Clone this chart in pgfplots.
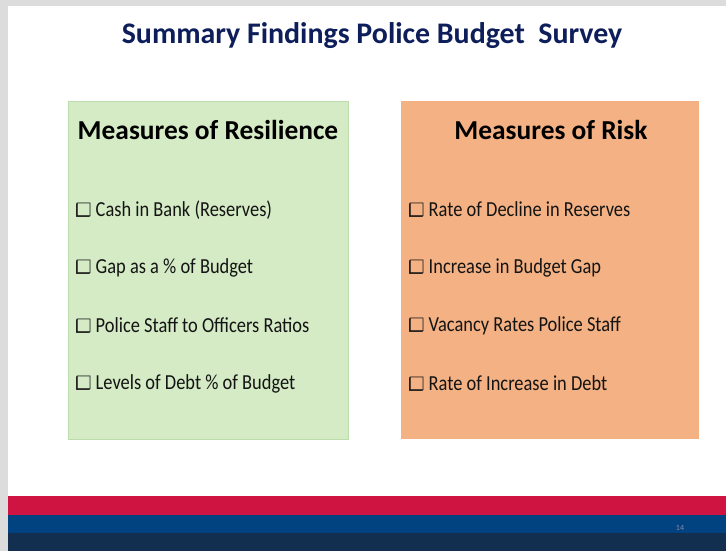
\documentclass[border=0pt]{standalone}
\usepackage{fontspec}
\usepackage{graphicx}
\setmainfont{Carlito}
\newfontfamily\itemfont[FakeStretch=0.86]{Carlito}
\newfontfamily\sym{DejaVu Sans}
\usepackage{pgfplots}
\pgfplotsset{compat=1.18}

\definecolor{titlenavy}{HTML}{0E1E5B}
\definecolor{resgreen}{HTML}{D4EBC5}
\definecolor{resedge}{HTML}{BCDCAB}
\definecolor{riskorange}{HTML}{F4B183}
\definecolor{bandred}{HTML}{CF1441}
\definecolor{bandblue}{HTML}{014280}
\definecolor{banddark}{HTML}{132F4F}
\definecolor{framegray}{HTML}{DCDCDC}
\definecolor{pagenum}{HTML}{7F8FA8}

% checkbox bullet, shadow on the lower left as in the slide
\newcommand{\bullitem}[1]{\reflectbox{\sym\fontsize{18.5}{18.5}\selectfont ❑}\hspace{4bp}#1}
\tikzset{item/.style={anchor=west, font=\itemfont\fontsize{21.5}{21.5}\selectfont, text=black!92, inner sep=0pt}}

\begin{document}
\begin{tikzpicture}
\begin{axis}[
    x=1bp, y=1bp,
    xmin=0, xmax=726, ymin=0, ymax=551,
    hide axis,
    clip=false,
]
    %% slide frame and background
    \addplot[fill=framegray, draw=none] coordinates {(0,0)(726,0)(726,551)(0,551)} -- cycle;
    \addplot[fill=white, draw=none] coordinates {(8,0)(726,0)(726,545)(8,545)} -- cycle;

    %% footer bands
    \addplot[fill=bandred, draw=none] coordinates {(8,36)(726,36)(726,55)(8,55)} -- cycle;
    \addplot[fill=bandblue, draw=none] coordinates {(8,18)(726,18)(726,36)(8,36)} -- cycle;
    \addplot[fill=banddark, draw=none] coordinates {(8,0)(726,0)(726,18)(8,18)} -- cycle;

    %% the two panels
    \addplot[fill=resgreen, draw=resedge, line width=0.8bp] coordinates {(68,112)(348,112)(348,450)(68,450)} -- cycle;
    \addplot[fill=riskorange, draw=none] coordinates {(401,112)(699,112)(699,450)(401,450)} -- cycle;

    %% title
    \node[font=\fontsize{30}{30}\selectfont\bfseries, text=titlenavy]
        at (axis cs:372,515) {Summary Findings Police Budget\ \ Survey};

    %% panel headings
    \node[font=\fontsize{27.5}{27.5}\selectfont\bfseries] at (axis cs:208,421) {Measures of Resilience};
    \node[font=\fontsize{27.5}{27.5}\selectfont\bfseries] at (axis cs:551,421) {Measures of Risk};

    %% resilience items
    \node[item] at (axis cs:75,341) {\bullitem{Cash in Bank (Reserves)}};
    \node[item] at (axis cs:75,283) {\bullitem{Gap as a \% of Budget}};
    \node[item] at (axis cs:75,225) {\bullitem{Police Staff to Officers Ratios}};
    \node[item] at (axis cs:75,167) {\bullitem{Levels of Debt \% of Budget}};

    %% risk items
    \node[item] at (axis cs:408,341) {\bullitem{Rate of Decline in Reserves}};
    \node[item] at (axis cs:408,283) {\bullitem{Increase in Budget Gap}};
    \node[item] at (axis cs:408,225) {\bullitem{Vacancy Rates Police Staff}};
    \node[item] at (axis cs:408,167) {\bullitem{Rate of Increase in Debt}};

    %% page number
    \node[font=\fontsize{8}{8}\selectfont, text=pagenum] at (axis cs:680,23) {14};
\end{axis}
\end{tikzpicture}
\end{document}
